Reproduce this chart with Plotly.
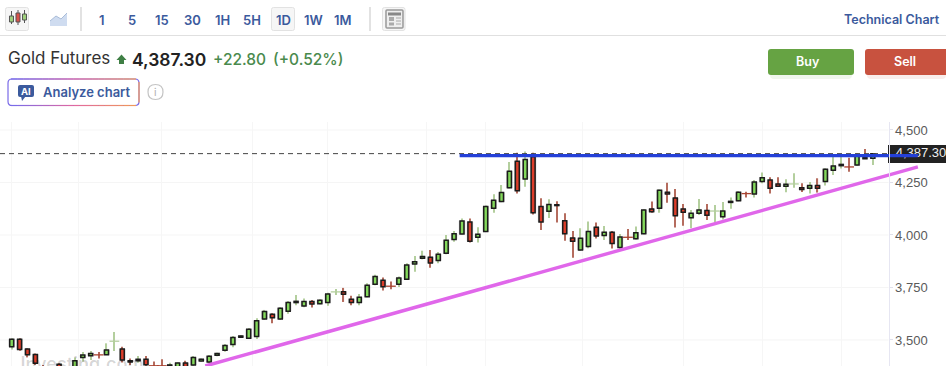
import plotly.graph_objects as go

# ---------- chart data ----------
opens = [3468,3503,3457,3431,3372,3368,3384,3360,3365,3416,3425,3431,3430,3493,3457,3401,3401,3408,3379,3379,
         3376,3370,3390,3381,3400,3395,3427,3451,3478,3513,3508,3517,3600,3622,3600,3637,3678,3662,3683,3673,
         3678,3728,3730,3694,3678,3706,3765,3784,3758,3765,3789,3862,3889,3894,3878,3913,3979,4005,4062,3989,
         4016,4127,4159,4225,4351,4267,4373,4135,4113,4144,4068,3986,3929,3945,4037,3998,4013,3940,3991,3982,
         4006,4124,4127,4203,4176,4124,4082,4103,4117,4113,4087,4155,4163,4199,4195,4255,4262,4243,4232,4242,
         4225,4222,4236,4255,4308,4330,4326,4333,4368,4365]
closes = [3503,3455,3430,3389,3370,3362,3362,3372,3401,3428,3436,3429,3452,3494,3405,3395,3408,3382,3377,3377,
          3381,3390,3372,3417,3408,3422,3436,3474,3512,3519,3551,3592,3636,3606,3651,3679,3684,3683,3671,3689,
          3719,3729,3718,3678,3703,3760,3802,3754,3756,3795,3857,3873,3898,3867,3908,3975,4006,4067,3970,4003,
          4135,4165,4202,4303,4211,4360,4106,4062,4145,4140,4006,3970,3984,4016,3995,4013,3959,3990,3989,4011,
          4119,4111,4213,4195,4092,4108,4103,4119,4094,4114,4114,4160,4203,4197,4252,4273,4222,4232,4241,4243,
          4216,4235,4222,4313,4329,4336,4324,4376,4363,4387]
highs = [3508,3508,3460,3436,3381,3374,3389,3375,3417,3443,3447,3443,3484,3538,3468,3412,3424,3424,3397,3408,
         3392,3393,3401,3424,3412,3428,3439,3481,3519,3522,3557,3603,3643,3627,3656,3686,3714,3698,3690,3694,
         3725,3743,3748,3710,3719,3770,3810,3798,3778,3802,3865,3900,3925,3929,3919,4000,4019,4078,4078,4037,
         4140,4194,4238,4348,4392,4397,4392,4175,4170,4160,4103,4019,4032,4064,4059,4043,4019,4005,4028,4040,
         4122,4159,4217,4249,4219,4148,4119,4171,4148,4143,4157,4178,4209,4206,4262,4298,4275,4275,4265,4294,
         4246,4252,4270,4318,4373,4381,4368,4389,4409,4389]
lows = [3455,3449,3417,3381,3350,3350,3355,3350,3355,3397,3405,3412,3428,3447,3393,3381,3392,3376,3360,3360,
        3365,3365,3365,3376,3396,3389,3422,3444,3465,3509,3505,3505,3595,3579,3595,3625,3665,3656,3654,3670,
        3663,3714,3681,3665,3665,3703,3760,3735,3741,3752,3786,3825,3884,3844,3865,3908,3968,4002,3964,3964,
        4014,4106,4156,4221,4198,4230,4097,4024,4081,4059,3973,3892,3924,3937,3983,3976,3936,3932,3976,3979,
        4003,4106,4106,4154,4035,4044,4032,4095,4071,4059,4074,4125,4160,4178,4178,4246,4198,4230,4203,4225,
        4205,4198,4202,4235,4286,4317,4301,4330,4362,4333]
idx = list(range(len(opens)))

y_ticks = [3500, 3750, 4000, 4250, 4500]
y_labels = ["3,500", "3,750", "4,000", "4,250", "4,500"]
x_grid = [0, 8.5, 19, 30.5, 40, 52.5, 60, 72.3, 85, 95, 105]
last_price = 4387.3
last_label = "4,387.30"
support_x, support_y = [24.5, 114.7], [3376, 4324]
resist_x, resist_y = [56.7, 114.7], [4378, 4378]

# ---------- styles ----------
W, H = 946, 366
L, R, T, B = 0, 0, 122, 0
AXIS_PX = 888.5
FONT = "Inter"
BLUE = "#3b5a9d"
UP_FILL, DN_FILL = "#84d95c", "#dc3d2a"
UP_WICK, DN_WICK = "#b4cf9e", "#b56c5e"

def px(x): return (x - L) / (W - L - R)
def py(y): return 1 - (y - T) / (H - T - B)

doji = [abs(o - c) <= 2 for o, c in zip(opens, closes)]
body_i = [i for i in idx if not doji[i]]
doji_i = [i for i in idx if doji[i]]

fig = go.Figure()
# watermark, cut by the lower edge as in the reference
fig.add_trace(go.Scatter(x=[8.9], y=[3378], mode="text", text=["Investing.com"], showlegend=False,
                         textfont=dict(family=FONT, size=18, weight=600, color="rgba(0,0,0,0.16)"), hoverinfo="skip"))
# wicks
fig.add_trace(go.Bar(x=idx, y=[h - l for h, l in zip(highs, lows)], base=lows, width=0.14, showlegend=False,
                     marker=dict(color=[UP_WICK if c > o else DN_WICK for o, c in zip(opens, closes)], line=dict(width=0))))
# soft halo round the bodies
fig.add_trace(go.Bar(x=body_i,
                     y=[abs(closes[i] - opens[i]) for i in body_i],
                     base=[min(closes[i], opens[i]) for i in body_i],
                     width=0.72, showlegend=False,
                     marker=dict(color="rgba(0,0,0,0.18)", line=dict(color="rgba(0,0,0,0.12)", width=1))))
# bodies
fig.add_trace(go.Bar(x=body_i,
                     y=[abs(closes[i] - opens[i]) for i in body_i],
                     base=[min(closes[i], opens[i]) for i in body_i],
                     width=0.5, showlegend=False,
                     marker=dict(color=[UP_FILL if closes[i] > opens[i] else DN_FILL for i in body_i],
                                 line=dict(color="#1c1c1c", width=1.5))))
# doji crossbars
fig.add_trace(go.Scatter(x=doji_i, y=[closes[i] for i in doji_i], mode="markers", showlegend=False,
                         marker=dict(symbol="line-ew", size=7,
                                     line=dict(width=1.3, color=[UP_WICK if closes[i] > opens[i] else "#a9422f" for i in doji_i]))))
# last price dashed line
fig.add_trace(go.Scatter(x=[-1.48, 110.9], y=[last_price, last_price], mode="lines", showlegend=False,
                         line=dict(color="#444444", width=1, dash="5px,4px")))
# price tag text, under the drawn lines
fig.add_trace(go.Scatter(x=[115.1], y=[last_price - 2], mode="text", text=[last_label], showlegend=False,
                         textfont=dict(family="Liberation Sans", size=13, color="#eeeeee")))
# drawn lines
fig.add_trace(go.Scatter(x=support_x, y=support_y, mode="lines", showlegend=False,
                         line=dict(color="#e067ea", width=3.4)))
fig.add_trace(go.Scatter(x=resist_x, y=resist_y, mode="lines", showlegend=False,
                         line=dict(color="#2440d8", width=3.2)))

# ---------- page chrome ----------
shapes, notes = [], []

def rrect(x0, y0, x1, y1, r, fill="rgba(0,0,0,0)", line=None, lw=1, layer="below", opacity=1):
    X = lambda v: f"{px(v):.5f}"
    Y = lambda v: f"{py(v):.5f}"
    p = (f"M {X(x0+r)} {Y(y0)} L {X(x1-r)} {Y(y0)} Q {X(x1)} {Y(y0)} {X(x1)} {Y(y0+r)} "
         f"L {X(x1)} {Y(y1-r)} Q {X(x1)} {Y(y1)} {X(x1-r)} {Y(y1)} "
         f"L {X(x0+r)} {Y(y1)} Q {X(x0)} {Y(y1)} {X(x0)} {Y(y1-r)} "
         f"L {X(x0)} {Y(y0+r)} Q {X(x0)} {Y(y0)} {X(x0+r)} {Y(y0)} Z")
    shapes.append(dict(type="path", path=p, xref="paper", yref="paper", fillcolor=fill, layer=layer, opacity=opacity,
                       line=dict(color=line or "rgba(0,0,0,0)", width=lw if line else 0)))

def seg(x0, y0, x1, y1, color, lw=1):
    shapes.append(dict(type="line", xref="paper", yref="paper", x0=px(x0), y0=py(y0), x1=px(x1), y1=py(y1),
                       line=dict(color=color, width=lw), layer="below"))

def poly(points, fill, line=None, lw=1):
    p = "M " + " L ".join(f"{px(a):.5f} {py(b):.5f}" for a, b in points) + " Z"
    shapes.append(dict(type="path", path=p, xref="paper", yref="paper", fillcolor=fill, layer="below",
                       line=dict(color=line or "rgba(0,0,0,0)", width=lw if line else 0)))

def text(x, y, s, size, color, weight=400, anchor="left", family=FONT):
    nudge = {"left": -2, "right": 2, "center": 0}[anchor]
    notes.append(dict(x=px(x + nudge), y=py(y), xref="paper", yref="paper", text=s, showarrow=False, xanchor=anchor,
                      yanchor="middle", font=dict(family=family, size=size, color=color, weight=weight)))

# horizontal grid stops at the price axis
for v in y_ticks:
    shapes.append(dict(type="line", xref="paper", yref="y", x0=0, x1=px(AXIS_PX), y0=v, y1=v,
                       line=dict(color="#f5f5f5", width=1), layer="below"))

# toolbar
seg(0, 35.5, 946, 35.5, "#e0e0e0", 1)
seg(81, 7, 81, 31, "#d9d9d9", 1.5)
seg(370, 7, 370, 31, "#d9d9d9", 1.5)
rrect(5.5, 7.5, 28.5, 30.5, 2, "#f6f6f6", "#e2e2e2")
rrect(271.5, 7.5, 294.5, 30.5, 2, "#f6f6f6", "#e2e2e2")
rrect(382.5, 7.5, 405, 30.5, 2, "#f6f6f6", "#e2e2e2")
for cx, t0, t1, b0, b1, col in [(11.5, 11, 24, 16, 22, "#9fd07c"), (18, 10, 25, 13, 22, "#d9534a"), (24.5, 10, 23, 14, 20, "#9fd07c")]:
    seg(cx, t0, cx, t1, "#555555", 1)
    rrect(cx-2, b0, cx+2, b1, 0, col, "#555555", 1)
poly([(50, 26), (50, 21), (56, 16), (61, 19), (67, 13), (67, 26)], "#cfdcf0")
seg(50, 21, 56, 16, "#a9bcd8"); seg(56, 16, 61, 19, "#a9bcd8"); seg(61, 19, 67, 13, "#a9bcd8")
rrect(386, 10, 403, 28, 1, "#eeeeee", "#999999", 1.5)
seg(388, 14, 401, 14, "#888888", 3)
seg(389, 19, 394, 19, "#aaaaaa", 4); seg(389, 24, 394, 24, "#aaaaaa", 3)
seg(396, 18, 401, 18, "#aaaaaa", 1); seg(396, 21, 401, 21, "#aaaaaa", 1); seg(396, 24, 401, 24, "#aaaaaa", 1)
for s, cx in zip(["1", "5", "15", "30", "1H", "5H", "1D", "1W", "1M"], [102, 132, 162, 192, 222, 252, 283, 313, 343]):
    text(cx, 19.5, s, 13, BLUE, 600, "center")
text(940, 19.5, "Technical Chart", 12.5, BLUE, 600, "right")

# quote line
text(8, 58.5, "Gold Futures", 17, "#333333")
poly([(116.5, 60), (121.5, 54.5), (126.5, 60), (124, 60), (124, 64), (119, 64), (119, 60)], "#3f7f45")
text(132, 59, "4,387.30", 17.5, "#222222", 600)
text(213, 59, "+22.80", 15.5, "#4a8a4d", 500)
text(273, 59, "(+0.52%)", 15.5, "#4a8a4d", 500)

# analyze button with a gradient border
stops = [(0, (122, 107, 232)), (0.5, (226, 104, 160)), (1, (240, 152, 90))]
def grad(t):
    a, b = (stops[0], stops[1]) if t < 0.5 else (stops[1], stops[2])
    f = (t - a[0]) / (b[0] - a[0])
    return "rgb(%d,%d,%d)" % tuple(round(a[1][k] + f * (b[1][k] - a[1][k])) for k in range(3))
rrect(8, 79, 139, 105.5, 4, "#ffffff", "rgb(122,107,232)", 1.2)
n = 20
for k in range(n):
    x0, x1 = 11 + k * 125 / n, 11 + (k + 1) * 125 / n
    seg(x0, 79, x1, 79, grad(k / (n - 1)), 1.2)
    seg(x0, 105.5, x1, 105.5, grad(k / (n - 1)), 1.2)
seg(139, 82, 139, 102.5, "rgb(240,152,90)", 1.2)
rrect(18, 85, 34, 97, 2, BLUE)
poly([(21, 96), (26, 96), (22, 101)], BLUE)
text(26, 91, "AI", 9.5, "#ffffff", 700, "center")
text(43, 92, "Analyze chart", 13, BLUE, 600)
rrect(148, 84.5, 163, 99.5, 7.5, "#ffffff", "#c4c4c4", 1.2)
text(155.5, 92, "i", 10.5, "#b0b0b0", 400, "center")

# buy / sell
rrect(770, 53, 852, 79, 4, "#66a343", opacity=0.10)
rrect(867, 53, 946, 79, 4, "#c8523f", opacity=0.10)
rrect(768, 49, 854, 75, 3, "#66a343")
rrect(865, 49, 950, 75, 3, "#c8523f")
text(808, 62, "Buy", 12.5, "#ffffff", 600, "center")
text(905, 62, "Sell", 12.5, "#ffffff", 600, "center")

# last price tag
shapes.append(dict(type="rect", xref="paper", yref="paper", x0=px(888), x1=px(946), y0=py(145), y1=py(163),
                   fillcolor="#222222", line=dict(width=0), layer="below"))

fig.update_layout(
    width=W, height=H, margin=dict(l=L, r=R, t=T, b=B), paper_bgcolor="#ffffff", plot_bgcolor="rgba(0,0,0,0)",
    showlegend=False, shapes=shapes, annotations=notes, barmode="overlay",
    xaxis=dict(range=[-1.48, 118.26], tickmode="array", tickvals=x_grid, showticklabels=False, ticks="",
               showgrid=True, gridcolor="#f6f6f6", gridwidth=1, zeroline=False),
    yaxis=dict(range=[3376, 4538], side="right", anchor="free", position=px(AXIS_PX),
               tickmode="array", tickvals=y_ticks, ticktext=y_labels,
               showgrid=False, zeroline=False, showline=True, linecolor="#e6e6f2", linewidth=1,
               ticks="outside", ticklen=3, tickcolor="#e0e0ea",
               tickfont=dict(family="Liberation Sans", size=13, color="#5a5a5a")),
)
fig.write_html("out.html", config=dict(displayModeBar=False),
               post_script="document.body.style.margin='0';document.body.style.overflow='hidden';")
